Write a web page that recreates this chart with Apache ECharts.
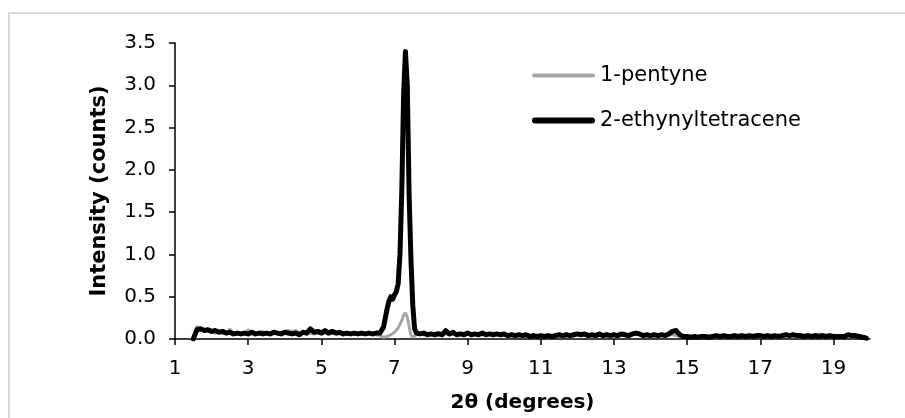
<!DOCTYPE html>
<html>
<head>
<meta charset="utf-8">
<script src="https://cdn.jsdelivr.net/npm/echarts@6/dist/echarts.min.js"></script>
<style>
html,body{margin:0;padding:0;background:#fff;}
#chart{width:905px;height:418px;}
</style>
</head>
<body>
<div id="chart"></div>
<script>
const seriesNames = ['1-pentyne', '2-ethynyltetracene'];
const xTickLabels = [1, 3, 5, 7, 9, 11, 13, 15, 17, 19];

const theta = [
1.5,1.6,1.7,1.8,1.9,2.0,2.1,2.2,2.3,2.4,2.5,2.6,2.7,2.8,2.9,3.0,3.1,3.2,3.3,3.4,3.5,3.6,3.7,3.8,3.9,
4.0,4.1,4.2,4.3,4.4,4.5,4.6,4.7,4.8,4.9,5.0,5.1,5.2,5.3,5.4,5.5,5.6,5.7,5.8,5.9,6.0,6.1,6.2,6.3,6.4,6.5,6.6,
6.65,6.7,6.75,6.8,6.85,6.9,6.95,7.0,7.05,7.1,7.15,7.2,7.25,7.3,7.35,7.4,7.45,7.5,7.55,7.6,
7.7,7.8,7.9,8.0,8.1,8.2,8.3,8.4,8.5,8.6,8.7,8.8,8.9,9.0,9.1,9.2,9.3,9.4,9.5,9.6,9.7,9.8,9.9,
10.0,10.1,10.2,10.3,10.4,10.5,10.6,10.7,10.8,10.9,11.0,11.1,11.2,11.3,11.4,11.5,11.6,11.7,11.8,11.9,
12.0,12.1,12.2,12.3,12.4,12.5,12.6,12.7,12.8,12.9,13.0,13.1,13.2,13.3,13.4,13.5,13.6,13.7,13.8,13.9,
14.0,14.1,14.2,14.3,14.4,14.5,14.6,14.7,14.8,14.9,15.0,15.1,15.2,15.3,15.4,15.5,15.6,15.7,15.8,15.9,
16.0,16.1,16.2,16.3,16.4,16.5,16.6,16.7,16.8,16.9,17.0,17.1,17.2,17.3,17.4,17.5,17.6,17.7,17.8,17.9,
18.0,18.1,18.2,18.3,18.4,18.5,18.6,18.7,18.8,18.9,19.0,19.1,19.2,19.3,19.4,19.5,19.6,19.7,19.8,19.9
];

const pentyne = [
0.00,0.15,0.13,0.10,0.09,0.08,0.07,0.08,0.07,0.06,0.12,0.06,0.06,0.07,0.06,0.11,0.07,0.06,0.08,0.09,0.06,0.07,0.09,0.06,0.07,
0.09,0.10,0.09,0.10,0.07,0.07,0.06,0.07,0.06,0.07,0.06,0.07,0.06,0.07,0.06,0.06,0.05,0.06,0.05,0.06,0.05,0.06,0.05,0.06,0.05,0.05,0.04,
0.02,0.02,0.03,0.03,0.04,0.05,0.06,0.08,0.10,0.13,0.15,0.22,0.28,0.31,0.26,0.15,0.05,0.02,0.02,0.05,
0.06,0.05,0.05,0.05,0.06,0.08,0.06,0.06,0.05,0.06,0.05,0.07,0.05,0.06,0.05,0.05,0.06,0.05,0.07,0.05,0.06,0.05,0.04,
0.05,0.04,0.04,0.05,0.04,0.04,0.04,0.04,0.03,0.04,0.03,0.03,0.03,0.04,0.03,0.04,0.03,0.04,0.04,0.04,
0.05,0.04,0.05,0.04,0.04,0.04,0.05,0.04,0.04,0.05,0.04,0.04,0.05,0.04,0.04,0.05,0.05,0.05,0.04,0.05,
0.04,0.04,0.05,0.04,0.04,0.05,0.05,0.04,0.03,0.03,0.03,0.03,0.02,0.03,0.02,0.03,0.03,0.02,0.03,0.03,
0.03,0.03,0.03,0.03,0.03,0.04,0.03,0.04,0.03,0.03,0.04,0.03,0.04,0.03,0.03,0.04,0.03,0.04,0.04,0.04,
0.04,0.05,0.04,0.05,0.04,0.05,0.06,0.05,0.04,0.03,0.04,0.03,0.03,0.03,0.04,0.04,0.03,0.03,0.03,0.02
];

const ethynyltetracene = [
0.00,0.11,0.12,0.10,0.11,0.09,0.10,0.08,0.09,0.07,0.08,0.06,0.07,0.06,0.07,0.06,0.08,0.06,0.07,0.06,0.07,0.06,0.08,0.07,0.06,
0.08,0.07,0.06,0.07,0.05,0.08,0.07,0.12,0.08,0.09,0.07,0.10,0.07,0.09,0.07,0.08,0.06,0.07,0.06,0.07,0.06,0.07,0.06,0.07,0.06,0.07,0.07,
0.08,0.14,0.25,0.36,0.45,0.50,0.47,0.52,0.56,0.65,1.00,1.75,2.90,3.40,3.00,1.70,0.95,0.40,0.12,0.07,
0.06,0.07,0.05,0.06,0.05,0.06,0.05,0.10,0.06,0.08,0.05,0.06,0.05,0.07,0.05,0.06,0.05,0.07,0.05,0.06,0.05,0.06,0.05,
0.06,0.04,0.05,0.04,0.05,0.04,0.05,0.03,0.04,0.03,0.04,0.03,0.04,0.03,0.04,0.05,0.04,0.05,0.04,0.05,
0.06,0.05,0.06,0.04,0.05,0.04,0.06,0.04,0.05,0.04,0.05,0.04,0.06,0.05,0.04,0.06,0.07,0.06,0.04,0.05,
0.04,0.05,0.04,0.05,0.04,0.06,0.09,0.10,0.05,0.03,0.03,0.02,0.03,0.02,0.03,0.03,0.02,0.03,0.04,0.03,
0.04,0.03,0.03,0.04,0.03,0.04,0.03,0.04,0.03,0.04,0.04,0.03,0.04,0.03,0.04,0.03,0.04,0.05,0.04,0.05,
0.04,0.04,0.03,0.04,0.03,0.04,0.03,0.04,0.03,0.04,0.03,0.03,0.03,0.03,0.05,0.04,0.04,0.03,0.02,0.01
];

const FONT = '"DejaVu Sans", Verdana, sans-serif';
const pairs = ys => theta.map((x, i) => [x, ys[i]]);

const chart = echarts.init(document.getElementById('chart'), null, {renderer: 'canvas'});
chart.setOption({
  animation: false,
  backgroundColor: '#ffffff',
  textStyle: {fontFamily: FONT, color: '#000'},
  graphic: [{
    type: 'rect',
    shape: {x: 9, y: 13, width: 920, height: 430},
    style: {fill: 'none', stroke: '#d9d9d9', lineWidth: 2},
    silent: true, z: -10
  }],
  grid: {left: 175, right: 35, top: 43, bottom: 75, containLabel: false},
  legend: {
    orient: 'vertical',
    left: 527, top: 60,
    itemWidth: 63, itemHeight: 22, itemGap: 24,
    data: [
      {name: seriesNames[0], icon: 'path://M2,9 L61,9 A2,2 0 0 1 61,13 L2,13 A2,2 0 0 1 2,9 Z'},
      {name: seriesNames[1], icon: 'path://M3,8 L60,8 A3,3 0 0 1 60,14 L3,14 A3,3 0 0 1 3,8 Z'}
    ],
    textStyle: {fontFamily: FONT, fontSize: 21, color: '#000'}
  },
  xAxis: {
    type: 'value', min: 1, max: 20,
    name: '2θ (degrees)', nameLocation: 'middle', nameGap: 54,
    nameTextStyle: {fontFamily: FONT, fontSize: 20, fontWeight: 'bold', color: '#000'},
    axisLine: {show: true, onZero: false, lineStyle: {color: '#000', width: 1.5}},
    axisTick: {show: true, length: 6, inside: false, customValues: xTickLabels, lineStyle: {color: '#000', width: 1.5}},
    axisLabel: {customValues: xTickLabels, margin: 20, fontFamily: FONT, fontSize: 20, color: '#000'},
    splitLine: {show: false}
  },
  yAxis: {
    type: 'value', min: 0, max: 3.5, interval: 0.5,
    name: 'Intensity (counts)', nameLocation: 'middle', nameGap: 65,
    nameTextStyle: {fontFamily: FONT, fontSize: 21, fontWeight: 'bold', color: '#000'},
    axisLine: {show: true, lineStyle: {color: '#000', width: 1.5}},
    axisTick: {show: true, length: 6, inside: false, lineStyle: {color: '#000', width: 1.5}},
    axisLabel: {margin: 19, fontFamily: FONT, fontSize: 20, color: '#000', formatter: v => v.toFixed(1)},
    splitLine: {show: false}
  },
  series: [
    {
      name: seriesNames[0], type: 'line', data: pairs(pentyne),
      showSymbol: false, symbol: 'none', smooth: false,
      lineStyle: {color: '#a6a6a6', width: 3},
      itemStyle: {color: '#a6a6a6'}, z: 2
    },
    {
      name: seriesNames[1], type: 'line', data: pairs(ethynyltetracene),
      showSymbol: false, symbol: 'none', smooth: false,
      lineStyle: {color: '#000000', width: 5, join: 'round', cap: 'round'},
      itemStyle: {color: '#000000'}, z: 3
    }
  ]
});
</script>
</body>
</html>
